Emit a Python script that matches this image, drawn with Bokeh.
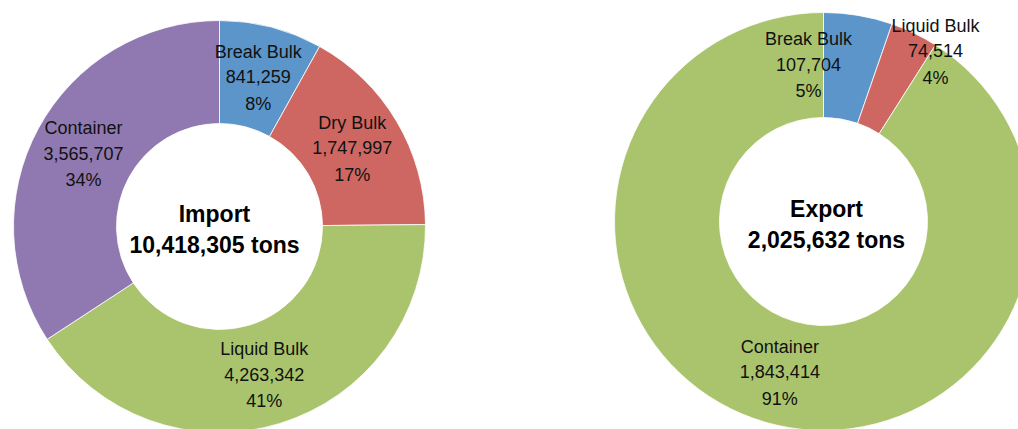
import math
from bokeh.plotting import figure
from bokeh.models import Range1d, ColumnDataSource
from bokeh.core.properties import value
from bokeh.embed import file_html
from bokeh.resources import INLINE

# ---- data ----
import_categories = ["Break Bulk", "Dry Bulk", "Liquid Bulk", "Container"]
import_values = [841259, 1747997, 4263342, 3565707]
import_pcts = ["8%", "17%", "41%", "34%"]
import_title = "Import"

export_categories = ["Break Bulk", "Liquid Bulk", "Container"]
export_values = [107704, 74514, 1843414]
export_pcts = ["5%", "4%", "91%"]
export_title = "Export"

palette_import = ["#5B95C9", "#CE6761", "#AAC46D", "#9079B0"]
palette_export = ["#5B95C9", "#CE6761", "#AAC46D"]

W, H = 1018, 429
FONT = "Liberation Sans"

p = figure(width=W, height=H, output_backend="svg", toolbar_location=None,
           x_range=Range1d(0, W), y_range=Range1d(0, H), min_border=0,
           background_fill_color="white", border_fill_color="white")
p.axis.visible = False
p.grid.visible = False
p.outline_line_color = None


def donut(cx, cy, r_in, r_out, cats, vals, pcts, colors, title, label_shift, title_dx):
    total = sum(vals)
    cum = 0.0
    starts, ends, mids = [], [], []
    for v in vals:
        f0 = cum / total
        cum += v
        f1 = cum / total
        # clockwise from 12 o'clock
        starts.append(math.pi / 2 - f1 * 2 * math.pi)
        ends.append(math.pi / 2 - f0 * 2 * math.pi)
        mids.append(math.pi / 2 - (f0 + f1) / 2 * 2 * math.pi)
    src = ColumnDataSource(dict(x=[cx] * len(vals), y=[cy] * len(vals),
                                s=starts, e=ends, c=colors))
    p.annular_wedge(x="x", y="y", inner_radius=r_in, outer_radius=r_out,
                    start_angle="s", end_angle="e", color="c", source=src,
                    line_color="white", line_width=0.8, direction="anticlock")
    rl = (r_in + r_out) / 2
    for i, cat in enumerate(cats):
        dx, dy = label_shift[i]
        lx = cx + rl * math.cos(mids[i]) + dx
        ly = cy + rl * math.sin(mids[i]) + dy
        lines = [cat, f"{vals[i]:,}", pcts[i]]
        offs = [25, 0, -27]
        for t, o in zip(lines, offs):
            p.text(x=[lx], y=[ly + o], text=[t], text_align="center",
                   text_baseline="middle", text_font=value(FONT),
                   text_font_size="18px", text_color="#111111")
    p.text(x=[cx + title_dx], y=[cy + 13], text=[title], text_align="center",
           text_baseline="middle", text_font=value(FONT), text_font_style="bold",
           text_font_size="23px", text_color="black")
    p.text(x=[cx + title_dx], y=[cy - 18], text=[f"{total:,} tons"], text_align="center",
           text_baseline="middle", text_font=value(FONT), text_font_style="bold",
           text_font_size="23px", text_color="black")


donut(219, H - 226, 103, 206, import_categories, import_values, import_pcts,
      palette_import, import_title, [(0, 0), (0, 0), (0, 0), (0, 0)], -5)
donut(823, H - 221, 104, 209, export_categories, export_values, export_pcts,
      palette_export, export_title, [(-41, 3), (44, 30), (0, 0)], 3)

open("out.html", "w").write(file_html(p, INLINE))
